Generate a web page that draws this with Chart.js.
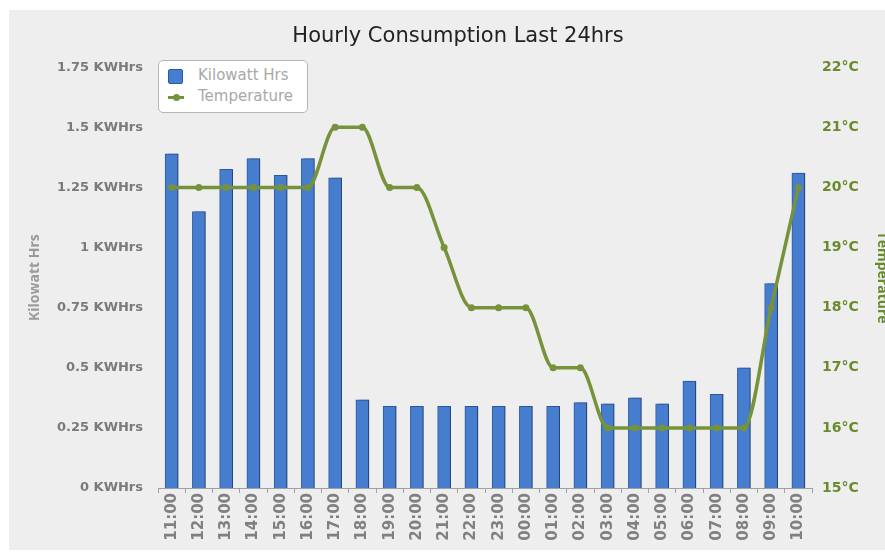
<!DOCTYPE html>
<html>
<head>
<meta charset="utf-8">
<script src="https://cdn.jsdelivr.net/npm/chart.js@4"></script>
<style>
  html, body { margin: 0; padding: 0; background: #fff; overflow: hidden; }
  #bg { position: absolute; left: 9px; top: 10px; right: 0; bottom: 3px; background: #eeeeee; }
  #wrap { position: absolute; left: 0; top: 0; width: 916px; height: 553px; }
  #legend {
    position: absolute; left: 158px; top: 60px; width: 148px; height: 51px;
    background: #fff; border: 1px solid #b5b5b5; border-radius: 5px;
    font: 15px "DejaVu Sans", sans-serif; color: #a8a8a8;
  }
  #legend .item { position: absolute; left: 39px; }
  #legend .sym { position: absolute; left: -30px; }
</style>
</head>
<body>
<div id="bg"></div>
<div id="wrap"><canvas id="chart"></canvas></div>
<div id="legend"></div>
<script>
// hourly readings, last 24 hours
const hours = ["11:00", "12:00", "13:00", "14:00", "15:00", "16:00", "17:00", "18:00",
  "19:00", "20:00", "21:00", "22:00", "23:00", "00:00", "01:00", "02:00",
  "03:00", "04:00", "05:00", "06:00", "07:00", "08:00", "09:00", "10:00"];
const kwh = [1.39, 1.15, 1.325, 1.37, 1.30, 1.37, 1.29, 0.367,
  0.34, 0.34, 0.34, 0.34, 0.34, 0.34, 0.34, 0.355,
  0.35, 0.375, 0.35, 0.445, 0.39, 0.50, 0.85, 1.31];
const temps = [20, 20, 20, 20, 20, 20, 21, 21,
  20, 20, 19, 18, 18, 18, 17, 17,
  16, 16, 16, 16, 16, 16, 18, 20];

const blue = "#467dcf";
const blueEdge = "#2a5aa6";
const green = "#76923a";

// grey drop shadow to the right of the bars
const barShadow = {
  id: "barShadow",
  beforeDatasetDraw(chart, args) {
    if (args.meta.type !== "bar") return;
    const ctx = chart.ctx;
    ctx.save();
    ctx.shadowColor = "rgba(0,0,0,0.35)";
    ctx.shadowOffsetX = 3;
    ctx.shadowOffsetY = 0;
    ctx.shadowBlur = 1;
  },
  afterDatasetDraw(chart, args) {
    if (args.meta.type !== "bar") return;
    chart.ctx.restore();
  }
};

const chart = new Chart(document.getElementById("chart"), {
  type: "bar",
  data: {
    labels: hours,
    datasets: [
      {
        type: "line",
        label: "Temperature",
        data: temps,
        yAxisID: "yT",
        borderColor: green,
        backgroundColor: green,
        borderWidth: 3.5,
        pointRadius: 3.5,
        pointBorderWidth: 0,
        cubicInterpolationMode: "monotone",
        order: 0
      },
      {
        label: "Kilowatt Hrs",
        data: kwh,
        yAxisID: "yK",
        backgroundColor: blue,
        borderColor: blueEdge,
        borderWidth: 1,
        barThickness: 13,
        order: 1
      }
    ]
  },
  options: {
    responsive: true,
    maintainAspectRatio: false,
    animation: false,
    layout: { padding: 0 },
    plugins: {
      legend: { display: false },
      tooltip: { enabled: false },
      title: {
        display: true,
        text: "Hourly Consumption Last 24hrs",
        color: "#222",
        font: { family: "DejaVu Sans", size: 21, weight: "normal" },
        padding: { top: 24, bottom: 18 }
      }
    },
    scales: {
      x: {
        grid: { drawOnChartArea: false, drawTicks: true, tickLength: 5, color: "#a0a0a0" },
        border: { color: "#a0a0a0" },
        ticks: {
          color: "#808080",
          font: { family: "DejaVu Sans", size: 15, weight: "bold" },
          minRotation: 90, maxRotation: 90, padding: 0, autoSkip: false
        },
        afterFit(s) { s.height = 65; }
      },
      yK: {
        position: "left",
        min: 0, max: 1.75,
        grid: { display: false, drawTicks: false },
        border: { display: false },
        ticks: {
          stepSize: 0.25,
          padding: 15,
          color: "#7a7a7a",
          font: { family: "DejaVu Sans", size: 13, weight: "bold" },
          callback: v => v + " KWHrs"
        },
        title: {
          display: true, text: "Kilowatt Hrs", color: "#9a9a9a",
          font: { family: "Open Sans", size: 14, weight: "bold" },
          padding: { top: 27, bottom: 0 }
        },
        afterFit(s) { s.width = 158; }
      },
      yT: {
        position: "right",
        min: 15, max: 22,
        grid: { display: false, drawTicks: false },
        border: { display: false },
        ticks: {
          stepSize: 1,
          padding: 10,
          color: "#6b8a2c",
          font: { family: "DejaVu Sans", size: 14, weight: "bold" },
          callback: v => v + "°C"
        },
        title: {
          display: true, text: "Temperature", color: "#6b8a2c",
          font: { family: "Open Sans", size: 14, weight: "bold" },
          padding: { top: 26, bottom: 0 }
        },
        afterFit(s) { s.width = 104; }
      }
    }
  },
  plugins: [barShadow]
});

// legend box drawn inside the plot, top left
const legend = document.getElementById("legend");
legend.innerHTML =
  '<div class="item" style="top:5px"><span class="sym" style="top:3px;width:13px;height:13px;background:' + blue +
  ';border:1px solid ' + blueEdge + ';border-radius:2px"></span>' + chart.data.datasets[1].label + '</div>' +
  '<div class="item" style="top:26px"><span class="sym" style="top:9px;width:16px;height:3px;background:' + green +
  '"></span><span class="sym" style="left:-25px;top:7px;width:7px;height:7px;border-radius:50%;background:' + green +
  '"></span>' + chart.data.datasets[0].label + '</div>';
</script>
</body>
</html>
